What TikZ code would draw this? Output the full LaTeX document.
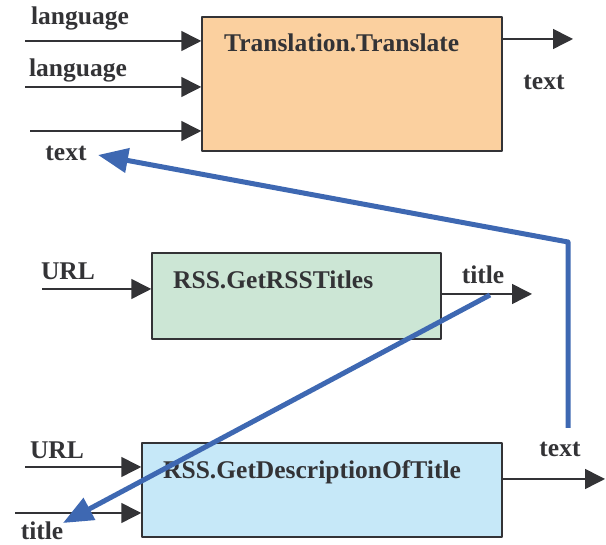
\documentclass[tikz,border=0pt]{standalone}
\usepackage{fontspec}
\setmainfont{Liberation Serif}
\usetikzlibrary{arrows.meta}
\definecolor{ink}{HTML}{333336}
\definecolor{transfill}{HTML}{FBD09F}
\definecolor{titlesfill}{HTML}{CCE6D5}
\definecolor{descfill}{HTML}{C6E8F8}
\definecolor{linkblue}{HTML}{3E68B2}
\tikzset{
  box/.style={draw=ink,line width=1.5pt,inner sep=0pt},
  lbl/.style={text=ink,font=\fontsize{25.5}{30}\selectfont\bfseries,inner sep=0pt,anchor=base},
  flow/.style={draw=ink,line width=1.5pt,-{Triangle[length=20pt,width=20pt]}},
  link/.style={draw=linkblue,line width=5pt,-{Triangle[length=30pt,width=24pt]}}
}
\begin{document}
\begin{tikzpicture}[x=1pt,y=1pt,line join=round]
		\useasboundingbox (0,0) rectangle (606,545);
		%Translation.Translate
		\node[box,fill=transfill,minimum width=300pt,minimum height=134pt] (trans) at (352,461) {};
		\node[lbl,anchor=base west] (transName) at (224,493) {Translation.Translate};
		\foreach \y/\xs [count=\i] in {504/25,458/25,414/30} {
			\coordinate (tIn\i) at (\xs,\y);
			\draw[flow] (tIn\i) -- (tIn\i -| trans.west);
		}
		\node[lbl] (langA) at (80,520) {language};
		\node[lbl] (langB) at (78,468) {language};
		\node[lbl] (textIn) at (66,384) {text};
		\coordinate (tOut) at (573,506);
		\draw[flow] (tOut -| trans.east) -- (tOut);
		\node[lbl] (textOut) at (544,455) {text};
		%RSS.GetRSSTitles
		\node[box,fill=titlesfill,minimum width=289pt,minimum height=86pt] (titles) at (296.5,249) {};
		\node[lbl,anchor=base west] (titlesName) at (173,256) {RSS.GetRSSTitles};
		\coordinate (gIn) at (42,256);
		\draw[flow] (gIn) -- (gIn -| titles.west);
		\node[lbl] (urlA) at (68,265) {URL};
		\coordinate (gOut) at (532,251);
		\draw[flow] (gOut -| titles.east) -- (gOut);
		\node[lbl] (titleOut) at (483,261) {title};
		%RSS.GetDescriptionOfTitle
		\node[box,fill=descfill,minimum width=360pt,minimum height=94pt] (desc) at (322,55) {};
		\node[lbl,anchor=base west] (descName) at (163,66) {RSS.GetDescriptionOfTitle};
		\foreach \y/\xs [count=\i] in {78/25,32/15} {
			\coordinate (dIn\i) at (\xs,\y);
			\draw[flow] (dIn\i) -- (dIn\i -| desc.west);
		}
		\node[lbl] (urlB) at (57,86) {URL};
		\node[lbl] (titleIn) at (42,5) {title};
		\coordinate (dOut) at (605,66);
		\draw[flow] (dOut -| desc.east) -- (dOut);
		\node[lbl] (textOutB) at (560,88) {text};
		%Links
		\coordinate (linkA) at (568,117);
		\coordinate (bend) at (568,303);
		\coordinate (linkAEnd) at (98,390);
		\draw[link] (linkA) -- (bend) -- (linkAEnd);
		\coordinate (linkB) at (490,250);
		\coordinate (linkBEnd) at (63,22);
		\draw[link] (linkB) -- (linkBEnd);
\end{tikzpicture}
\end{document}
